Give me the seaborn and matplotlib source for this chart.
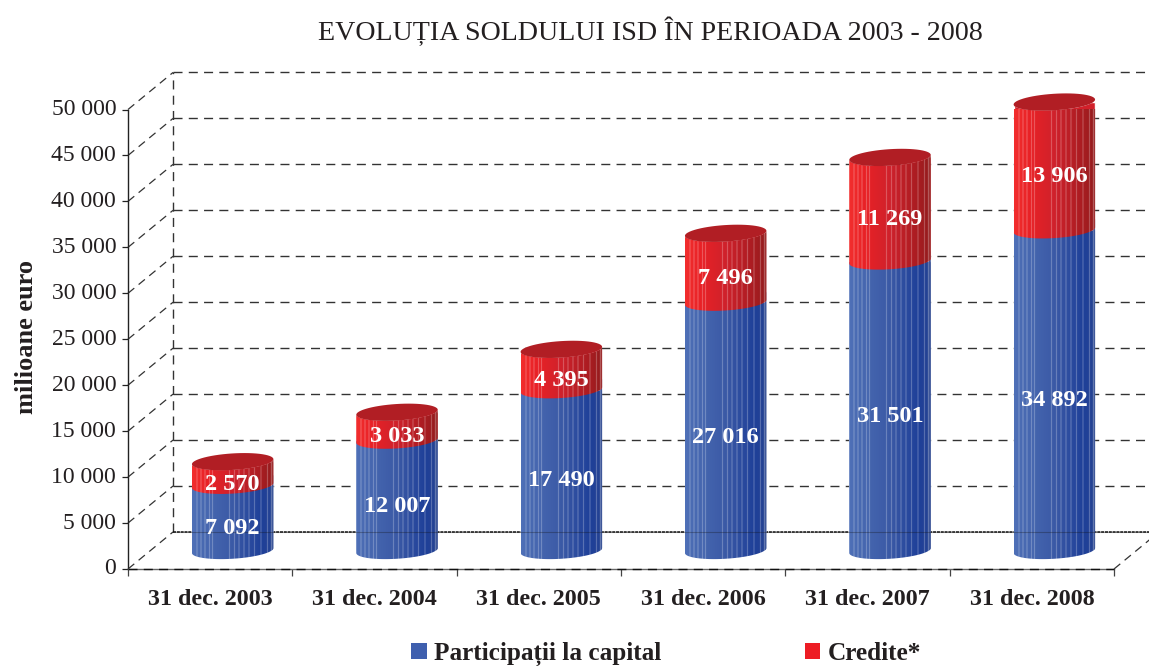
import numpy as np
import pandas as pd
import matplotlib
matplotlib.use('Agg')
import matplotlib.pyplot as plt
import seaborn as sns
from matplotlib.patches import Patch, PathPatch
from matplotlib.path import Path

# values, milioane euro
dates = ['31 dec. 2003', '31 dec. 2004', '31 dec. 2005', '31 dec. 2006', '31 dec. 2007', '31 dec. 2008']
capital = [7092, 12007, 17490, 27016, 31501, 34892]
credite = [2570, 3033, 4395, 7496, 11269, 13906]
y_ticks = [0, 5000, 10000, 15000, 20000, 25000, 30000, 35000, 40000, 45000, 50000]

# fake 3D look, in data units
DEPTH_X = 0.274
DEPTH_Y = 4030
BAR_WIDTH = 0.496
ELLIPSE_B = 900
ELLIPSE_TILT = 270
LABEL_DROP = 1170
STRIPES = [0.06, 0.11, 0.16, 0.21, 0.25, 0.46, 0.52, 0.58, 0.64, 0.70, 0.77, 0.85, 0.93, 0.98]

TEXT = '#231f20'
DASH = (0, (6.5, 4.5))

sns.set_style('white')
plt.rcParams['font.family'] = ['Liberation Serif', 'DejaVu Serif']
# tick text sits a bit above the tick mark in the original
plt.rcParams['ytick.alignment'] = 'center'

df = pd.DataFrame({'date': dates, 'capital': capital, 'credite': credite})
df['pos'] = np.arange(len(df)) + DEPTH_X / 2
df['total'] = df['capital'] + df['credite']

fig = plt.figure(figsize=(11.49, 6.66), dpi=100)
ax = fig.add_axes([128 / 1149, 1 - 569 / 666, 986 / 1149, 459.5 / 666])

sns.barplot(data=df, x='pos', y='capital', native_scale=True, width=BAR_WIDTH, color='#3c5aa6',
            bottom=DEPTH_Y / 2, errorbar=None, saturation=1, zorder=2, ax=ax)
n = len(ax.patches)
sns.barplot(data=df, x='pos', y='credite', native_scale=True, width=BAR_WIDTH, color='#d2202a',
            bottom=df['capital'].values + DEPTH_Y / 2, errorbar=None, saturation=1, zorder=3, ax=ax)
blue_rects = list(ax.patches[:n])
red_rects = list(ax.patches[n:])


def shade(stops):
    # one row of colour across the cylinder, with the thin light facet lines
    u = np.linspace(0, 1, 164)
    xs = [s[0] for s in stops]
    row = np.stack([np.interp(u, xs, [s[1][c] for s in stops]) for c in range(3)], axis=1)
    for s in STRIPES:
        i = int(s * 162)
        row[i:i + 2] = row[i:i + 2] * 0.72 + 0.28
    return row[np.newaxis, :, :]


blue_shade = shade([(0, (0.31, 0.44, 0.72)), (0.1, (0.29, 0.42, 0.70)), (0.5, (0.23, 0.35, 0.65)),
                    (0.85, (0.12, 0.25, 0.60)), (0.95, (0.14, 0.26, 0.58)), (1, (0.27, 0.36, 0.60))])
red_shade = shade([(0, (0.95, 0.18, 0.18)), (0.2, (0.91, 0.13, 0.15)), (0.5, (0.81, 0.13, 0.17)),
                   (0.85, (0.66, 0.11, 0.13)), (0.95, (0.60, 0.11, 0.12)), (1, (0.62, 0.20, 0.20))])


def arc(cx, cy, a, start, stop):
    t = np.linspace(start, stop, 60)
    return np.column_stack([cx + a * np.cos(t), cy + ELLIPSE_TILT * np.cos(t) + ELLIPSE_B * np.sin(t)])


def draw_side(rect, image, z, lift=0):
    a = rect.get_width() / 2
    cx = rect.get_x() + a
    y0 = rect.get_y()
    y1 = y0 + rect.get_height()
    pts = np.vstack([arc(cx, y0, a, np.pi, 2 * np.pi), arc(cx, y1 + lift, a, 2 * np.pi, np.pi)])
    clip = PathPatch(Path(np.vstack([pts, pts[0]])), transform=ax.transData, fc='none', ec='none')
    ax.add_patch(clip)
    rect.set_clip_path(clip)
    rect.set_clip_box(None)
    im = ax.imshow(image, extent=(cx - a, cx + a, y0 - 2 * ELLIPSE_B, y1 + 2 * ELLIPSE_B),
                   aspect='auto', zorder=z)
    im.set_clip_path(clip)
    im.set_clip_box(None)


for rect in blue_rects:
    draw_side(rect, blue_shade, 2.5, lift=ELLIPSE_B)
for rect in red_rects:
    draw_side(rect, red_shade, 3.5)
    a = rect.get_width() / 2
    cap = arc(rect.get_x() + a, rect.get_y() + rect.get_height(), a, 0, 2 * np.pi)
    ax.fill(cap[:, 0], cap[:, 1], color='#b11e24', lw=0, zorder=4, clip_on=False)

ax.set_xlim(-0.5, len(dates) - 0.5)
ax.set_ylim(0, 50000)

# back wall and side wall
x0 = -0.5
x1 = len(dates) - 0.5
for v in y_ticks[1:]:
    ax.plot([x0 + DEPTH_X, x1 + DEPTH_X], [v + DEPTH_Y, v + DEPTH_Y], color='#333333', lw=1, ls=DASH,
            zorder=1, clip_on=False)
for v in y_ticks:
    ax.plot([x0, x0 + DEPTH_X], [v, v + DEPTH_Y], color='#333333', lw=0.9, ls=DASH, zorder=1, clip_on=False)
ax.plot([x0 + DEPTH_X, x0 + DEPTH_X], [DEPTH_Y, 50000 + DEPTH_Y], color='#333333', lw=1, ls=DASH,
        zorder=1, clip_on=False)
ax.plot([x1, x1 + DEPTH_X], [0, DEPTH_Y], color='#333333', lw=0.9, ls=DASH, zorder=1, clip_on=False)
ax.plot([x0 + DEPTH_X, x1 + DEPTH_X], [DEPTH_Y, DEPTH_Y], color='#111111', lw=1.1, ls=(0, (2, 0.5)),
        zorder=1, clip_on=False)
# the floor line shows faintly through the bars
ax.plot([x0 + DEPTH_X, x1 + DEPTH_X], [DEPTH_Y, DEPTH_Y], color='#111111', lw=0.8, alpha=0.3, zorder=4.5,
        clip_on=False)
ax.plot([x0, x1], [0, 0], color='#111111', lw=1, ls=DASH, zorder=6, clip_on=False)

# value labels
for i, row in df.iterrows():
    ax.text(row['pos'], DEPTH_Y / 2 + row['capital'] / 2 - LABEL_DROP, f"{row['capital']:,}".replace(',', ' '),
            color='white', fontsize=17.5, fontweight='bold', ha='center', va='center', zorder=5)
    ax.text(row['pos'], DEPTH_Y / 2 + row['capital'] + row['credite'] / 2 - LABEL_DROP,
            f"{row['credite']:,}".replace(',', ' '),
            color='white', fontsize=17.5, fontweight='bold', ha='center', va='center', zorder=5)

ax.set_yticks(y_ticks)
ax.set_yticklabels([f'{v:,}'.replace(',', ' ') for v in y_ticks], fontsize=17, color=TEXT)
ax.set_xticks(np.arange(len(dates) + 1) - 0.5)
ax.set_xticklabels([])
ax.set_xticks(np.arange(len(dates)), minor=True)
ax.set_xticklabels(dates, minor=True, fontsize=17.3, fontweight='bold', color=TEXT)
ax.tick_params(axis='y', which='major', left=True, length=4, width=0.9, color='#222222', pad=4.5)
ax.tick_params(axis='x', which='major', bottom=True, length=5, width=0.9, color='#444444')
ax.tick_params(axis='x', which='minor', bottom=False, length=0, pad=14.5)
ax.set_xlabel('')
ax.set_ylabel('milioane euro', fontsize=19, fontweight='bold', color=TEXT)
ax.yaxis.set_label_coords((38 - 128) / 986, 0.505)
sns.despine(ax=ax)
ax.spines['left'].set_color('#222222')
ax.spines['bottom'].set_color('#666666')
ax.spines['left'].set_linewidth(1)
ax.spines['bottom'].set_linewidth(1)

fig.text(650 / 1149, 1 - 31 / 666, 'EVOLUȚIA SOLDULUI ISD ÎN PERIOADA 2003 - 2008', fontsize=20.2,
         color=TEXT, ha='center', va='center')

handles = [Patch(color='#3f5fae', lw=0), Patch(color='#ed1c24', lw=0)]
fig.legend(handles, ['Participații la capital', 'Credite*'], ncols=2, frameon=False,
           loc='center', bbox_to_anchor=(666 / 1149, 1 - 654 / 666),
           prop={'size': 18.2, 'weight': 'bold'}, labelcolor=TEXT,
           handlelength=0.6, handleheight=0.6, handletextpad=0.28, columnspacing=5.7)

fig.savefig('out.png', dpi=100)
